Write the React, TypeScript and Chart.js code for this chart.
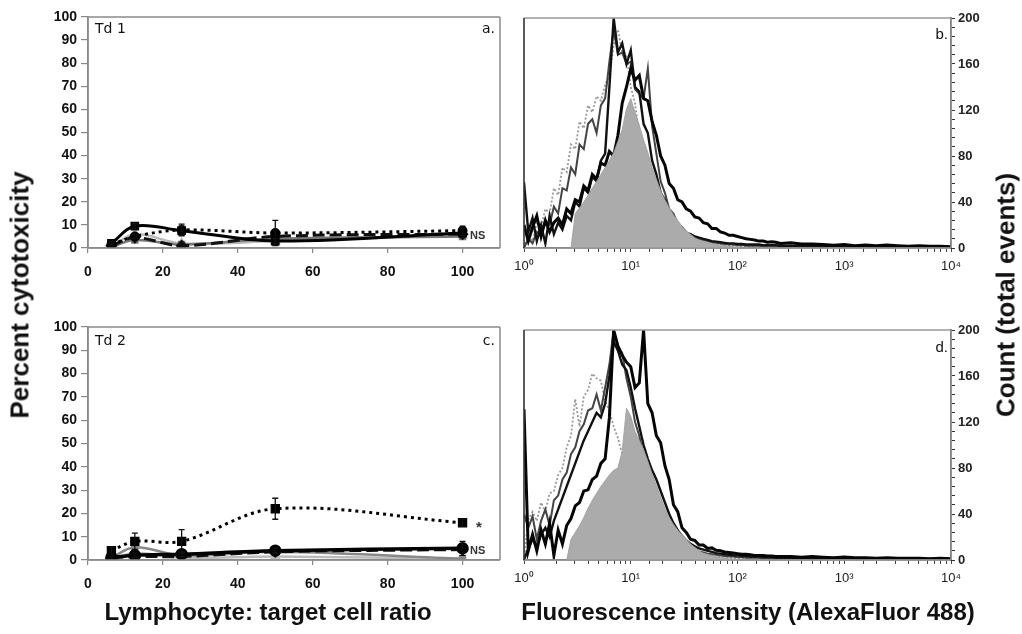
import React, { useEffect, useRef } from 'react';
import { Chart, registerables } from 'chart.js';

Chart.register(...registerables);

const FONT = "'Liberation Sans', Arial, Helvetica, sans-serif";

// ---------- Panels a & c (cytotoxicity) ----------
const RATIO = [6.25, 12.5, 25, 50, 100];
const RATIO_TICKS = [0, 20, 40, 60, 80, 100];
const PCT_TICKS = [0, 10, 20, 30, 40, 50, 60, 70, 80, 90, 100];

const TD1_SOLID = [2, 9.5, 7.5, 3, 6.5];
const TD1_SOLID_ERR = [1, 1, 2, 1, 2];
const TD1_DOTTED = [1.5, 5, 7.8, 6.5, 7.5];
const TD1_DOTTED_ERR = [0.5, 1, 2.5, 5.5, 2];
const TD1_DASHED = [1, 4.5, 1, 5, 6];
const TD1_GRAY = [0.5, 3.5, 1.5, 4, 5];
const TD1_LIGHT = [0.5, 6, 2, 3, 5.5];

const TD2_DOTTED = [4, 8, 8, 22, 16];
const TD2_DOTTED_ERR = [1.5, 3.5, 5, 4.5, 1.5];
const TD2_SOLID = [1, 2, 2.5, 4, 5];
const TD2_SOLID_ERR = [0.5, 1, 1, 1, 3];
const TD2_DASHED = [1, 1.5, 1.5, 3.5, 4.5];
const TD2_GRAY = [1, 5.5, 2, 3.5, 0.5];
const TD2_LIGHT = [0.5, 3, 1, 1.5, 0.5];

// ---------- Panels b & d (histograms) ----------
const LOG_GRID = [
  0, 0.04, 0.08, 0.12, 0.16, 0.2, 0.24, 0.28, 0.32, 0.36,
  0.4, 0.44, 0.48, 0.52, 0.56, 0.6, 0.64, 0.68, 0.72, 0.76,
  0.8, 0.84, 0.88, 0.92, 0.96, 1.0, 1.04, 1.08, 1.12, 1.16,
  1.2, 1.24, 1.28, 1.32, 1.36, 1.4, 1.44, 1.48, 1.52, 1.56,
  1.6, 1.64, 1.68, 1.72, 1.76, 1.8, 1.84, 1.88, 1.92, 1.96,
  2.0, 2.04, 2.08, 2.12, 2.16, 2.2, 2.24, 2.28, 2.32, 2.36,
  2.4, 2.5, 2.6, 2.7, 2.8, 2.9, 3.0, 3.1, 3.2, 3.3,
  3.4, 3.5, 3.6, 3.7, 3.8, 3.9, 4.0,
];
const FLUOR_TICKS = [0, 1, 2, 3, 4];
const COUNT_TICKS = [0, 40, 80, 120, 160, 200];

const B_GRAY = [
  0, 0, 0, 0, 0, 0, 0, 0, 0, 0,
  0, 0, 30, 35, 40, 46, 52, 58, 64, 70,
  76, 83, 93, 103, 121, 130, 118, 107, 94, 83,
  70, 60, 50, 42, 35, 29, 24, 19, 15, 12,
  9, 7, 6, 5, 4, 3, 2.5, 2, 1.5, 1,
  1, 0.5, 0.5, 0, 0, 0, 0, 0, 0, 0,
  0, 0, 0, 0, 0, 0, 0, 0, 0, 0,
  0, 0, 0, 0, 0, 0, 0,
];
const B_LIGHT = [
  0, 10, 6, 22, 18, 34, 30, 52, 46, 70,
  66, 90, 86, 110, 104, 124, 118, 132, 128, 142,
  150, 176, 190, 170, 168, 140, 126, 98, 88, 62,
  56, 42, 38, 28, 27, 19, 17, 12, 12, 8,
  8, 5, 6, 3.5, 4, 3, 3, 2.5, 2, 2,
  2, 1.5, 1.5, 1.5, 1, 1, 1, 1, 1, 1,
  1, 1, 0.5, 0.5, 0.5, 0.5, 0.5, 0.5, 0.5, 0.5,
  0.5, 0.5, 0.5, 0.5, 0.5, 0.5, 0.5,
];
const B_DARK = [
  0, 8, 4, 14, 10, 24, 20, 36, 30, 52,
  50, 70, 64, 90, 86, 108, 112, 100, 124, 130,
  162, 190, 168, 170, 160, 162, 138, 134, 130, 156,
  106, 82, 58, 48, 34, 30, 21, 18, 13, 12,
  9, 8, 7, 6, 5, 4.5, 4, 3.5, 3, 3,
  2.5, 2.5, 2, 2, 2, 2, 1.5, 1.5, 1.5, 1.5,
  1.5, 1.5, 1, 1, 1, 1, 1, 1, 1, 1,
  1, 1, 0.5, 0.5, 0.5, 0.5, 0.5,
];
const B_BROAD = [
  20, 6, 18, 28, 10, 24, 14, 22, 26, 20,
  34, 30, 42, 40, 54, 50, 64, 60, 74, 72,
  84, 80, 98, 126, 140, 156, 146, 150, 130, 128,
  110, 98, 80, 72, 56, 52, 42, 40, 34, 32,
  27, 26, 22, 21, 17, 17, 14, 13, 11, 11,
  10, 9, 8, 7.5, 7, 6, 6, 5, 5.5, 5,
  4, 4.5, 3.5, 3.5, 3, 2.5, 3, 2, 2.5, 2,
  2.5, 2, 1.5, 2, 1.5, 1.5, 1,
];
const B_NARROW = [
  57, 14, 26, 6, 20, 4, 28, 12, 22, 16,
  28, 24, 40, 36, 52, 48, 62, 58, 76, 82,
  140, 200, 170, 178, 160, 172, 140, 136, 108, 100,
  76, 64, 48, 42, 30, 28, 20, 18, 13, 12,
  10, 9, 8, 7, 6, 5.5, 5, 4.5, 4, 4,
  3.5, 3.5, 3, 3, 3, 3, 2.5, 2.5, 2.5, 2.5,
  2, 2, 2, 2, 1.5, 1.5, 1.5, 1.5, 1.5, 1,
  1, 1, 1, 1, 1, 1, 1,
];

const D_GRAY = [
  0, 0, 0, 0, 0, 0, 0, 0, 0, 0,
  0, 18, 24, 30, 37, 45, 52, 58, 64, 69,
  74, 78, 80, 95, 132, 125, 112, 104, 96, 86,
  75, 65, 55, 45, 37, 31, 26, 22, 18, 14,
  11, 8, 6, 5, 4, 3, 2, 2, 1, 1,
  0.5, 0.5, 0, 0, 0, 0, 0, 0, 0, 0,
  0, 0, 0, 0, 0, 0, 0, 0, 0, 0,
  0, 0, 0, 0, 0, 0, 0,
];
const D_LIGHT = [
  0, 35, 42, 34, 50, 42, 58, 60, 74, 80,
  98, 108, 140, 116, 142, 148, 162, 158, 156, 138,
  130, 116, 106, 92, 86, 74, 72, 62, 60, 50,
  48, 38, 36, 28, 25, 19, 18, 13, 12, 8,
  7.5, 5.5, 5, 4, 3, 3, 2.5, 2, 2, 1.5,
  1.5, 1.5, 1, 1, 1, 1, 1, 1, 1, 1,
  1, 0.5, 0.5, 0.5, 0.5, 0.5, 0.5, 0.5, 0.5, 0.5,
  0.5, 0.5, 0.5, 0.5, 0.5, 0.5, 0.5,
];
const D_DARK = [
  40, 28, 38, 18, 34, 44, 30, 52, 56, 70,
  76, 92, 98, 112, 118, 130, 132, 144, 130, 150,
  170, 200, 186, 180, 158, 142, 120, 108, 90, 82,
  66, 60, 46, 40, 30, 26, 19, 17, 12, 11,
  9, 7.5, 6.5, 5.5, 5, 4.5, 4, 3.5, 3, 3,
  2.5, 2.5, 2, 2, 2, 2, 1.5, 1.5, 1.5, 1.5,
  1.5, 1.5, 1, 1, 1, 1, 1, 1, 1, 1,
  1, 1, 0.5, 0.5, 0.5, 0.5, 0.5,
];
const D_BROAD = [
  131, 8, 22, 8, 26, 14, 32, 4, 26, 14,
  30, 36, 47, 50, 60, 61, 70, 73, 84, 88,
  124, 200, 186, 178, 172, 168, 150, 154, 200, 136,
  128, 108, 102, 82, 70, 48, 42, 28, 24, 18,
  17, 13, 13, 10, 10.5, 8.5, 8, 7, 6.5, 6,
  5.5, 5, 5, 4.5, 4, 4, 4, 3.5, 3.5, 3,
  3, 3, 2.5, 3, 2.5, 2, 2.5, 2, 2, 1.5,
  2, 1.5, 1.5, 1.5, 1, 1.5, 1,
];
const D_MID = [
  0, 10, 18, 12, 22, 28, 20, 34, 44, 54,
  64, 74, 84, 94, 104, 112, 120, 128, 124, 136,
  160, 190, 182, 170, 165, 150, 132, 116, 100, 88,
  78, 70, 60, 50, 40, 32, 26, 21, 17, 14,
  12, 10, 9, 8, 7, 6, 5.5, 5, 4.5, 4,
  4, 3.5, 3.5, 3, 3, 3, 2.5, 2.5, 2.5, 2,
  2, 2, 2, 1.5, 1.5, 1.5, 1.5, 1.5, 1, 1,
  1, 1, 1, 1, 1, 1, 1,
];

const SUP = ['\u2070', '\u00B9', '\u00B2', '\u00B3', '\u2074'];

// ---------- plugins ----------
const boxPlugin = {
  id: 'boxFrame',
  afterDraw(chart: any, _a: any, opts: any) {
    const { ctx, chartArea: a } = chart;
    ctx.save();
    ctx.lineWidth = opts.width || 1.5;
    ctx.strokeStyle = opts.color || '#888';
    ctx.beginPath();
    ctx.moveTo(a.left, a.top); ctx.lineTo(a.right, a.top);
    ctx.moveTo(a.right, a.top); ctx.lineTo(a.right, a.bottom);
    ctx.moveTo(a.left, a.bottom); ctx.lineTo(a.right, a.bottom);
    ctx.stroke();
    ctx.strokeStyle = opts.leftColor || opts.color || '#888';
    ctx.beginPath();
    ctx.moveTo(a.left, a.top); ctx.lineTo(a.left, a.bottom);
    ctx.stroke();
    ctx.restore();
  },
};

const errorPlugin = {
  id: 'errorBars',
  afterDatasetsDraw(chart: any) {
    const { ctx } = chart;
    const xs = chart.scales.x;
    const ys = chart.scales.y;
    chart.data.datasets.forEach((ds: any) => {
      if (!ds.errors) return;
      ctx.save();
      ctx.strokeStyle = ds.errColor || '#111';
      ctx.lineWidth = 1.3;
      ds.data.forEach((p: any, i: number) => {
        const e = ds.errors[i];
        if (!e) return;
        const px = xs.getPixelForValue(p.x);
        const t = ys.getPixelForValue(p.y + e);
        const b = ys.getPixelForValue(Math.max(0, p.y - e));
        ctx.beginPath();
        ctx.moveTo(px, t); ctx.lineTo(px, b);
        ctx.moveTo(px - 3, t); ctx.lineTo(px + 3, t);
        ctx.moveTo(px - 3, b); ctx.lineTo(px + 3, b);
        ctx.stroke();
      });
      ctx.restore();
    });
  },
};

const pts = (xs: number[], ys: number[]) => xs.map((x, i) => ({ x, y: ys[i] }));
const hist = (ys: number[]) => LOG_GRID.map((l, i) => ({ x: Math.pow(10, l), y: ys[i] }));

function cytoConfig(series: any[], top: number): any {
  return {
    type: 'line',
    data: { datasets: series },
    options: {
      animation: false,
      responsive: false,
      devicePixelRatio: 1,
      layout: { padding: { top, right: 20, left: 0, bottom: 0 } },
      plugins: { legend: { display: false }, tooltip: { enabled: false }, boxFrame: { color: '#8a8a8a', width: 1.5 } },
      scales: {
        x: {
          type: 'linear', min: 0, max: 110,
          afterBuildTicks: (s: any) => { s.ticks = RATIO_TICKS.map((v) => ({ value: v })); },
          afterFit: (s: any) => { s.height = 42; s.paddingLeft = 0; s.paddingRight = 0; },
          grid: { drawOnChartArea: false, tickLength: 5, color: '#888', lineWidth: 1.2 },
          border: { color: '#888', width: 1.5 },
          ticks: { color: '#111', font: { family: FONT, size: 14, weight: 'bold' }, padding: 11, maxRotation: 0 },
        },
        y: {
          min: 0, max: 100,
          afterBuildTicks: (s: any) => { s.ticks = PCT_TICKS.map((v) => ({ value: v })); },
          afterFit: (s: any) => { s.width = 88; },
          grid: { drawOnChartArea: false, tickLength: 7, color: '#888', lineWidth: 1.2 },
          border: { color: '#888', width: 1.5 },
          ticks: { color: '#111', font: { family: FONT, size: 14, weight: 'bold' }, padding: 4 },
        },
      },
    },
    plugins: [boxPlugin, errorPlugin],
  };
}

function line(data: any, color: string, width: number, dash: number[], style: string, radius: number, extra: any = {}) {
  return {
    data, borderColor: color, borderWidth: width, borderDash: dash, tension: 0.35,
    pointStyle: style, pointRadius: radius, pointBackgroundColor: color, pointBorderColor: color,
    fill: false, ...extra,
  };
}

function histConfig(sets: any[], top: number, left: number): any {
  return {
    type: 'line',
    data: { datasets: sets },
    options: {
      animation: false,
      responsive: false,
      devicePixelRatio: 1,
      layout: { padding: { top, left, right: 0, bottom: 0 } },
      elements: { point: { radius: 0 }, line: { tension: 0 } },
      plugins: { legend: { display: false }, tooltip: { enabled: false }, boxFrame: { color: '#999', leftColor: '#333', width: 1.6 } },
      scales: {
        x: {
          type: 'logarithmic', min: 1, max: 10000,
          afterFit: (s: any) => { s.height = 42; s.paddingLeft = 0; s.paddingRight = 0; },
          grid: { drawOnChartArea: false, tickLength: 4, color: '#444', lineWidth: 1 },
          border: { color: '#333', width: 1.5 },
          ticks: {
            autoSkip: false, maxRotation: 0, color: '#222', padding: 7,
            font: { family: FONT, size: 13 },
            callback: (v: number) => {
              const l = Math.log10(v);
              const r = Math.round(l);
              return Math.abs(l - r) < 1e-6 && FLUOR_TICKS.includes(r) ? '10' + SUP[r] : '';
            },
          },
        },
        y: {
          position: 'right', min: 0, max: 200,
          afterFit: (s: any) => { s.width = 71; },
          grid: { drawOnChartArea: false, tickLength: 4, color: '#333', lineWidth: 1 },
          border: { color: '#222', width: 1.5 },
          ticks: {
            stepSize: 8, autoSkip: false, color: '#222', padding: 3,
            font: { family: FONT, size: 13, weight: 'bold' },
            callback: (v: number) => (COUNT_TICKS.includes(v) ? String(v) : ''),
          },
        },
      },
    },
    plugins: [boxPlugin],
  };
}

function histSets(gray: number[], light: number[], dark: number[], mid: number[], broad: number[]) {
  return [
    { data: hist(gray), borderColor: '#9a9a9a', borderWidth: 0.8, backgroundColor: '#ababab', fill: 'origin' },
    { data: hist(broad), borderColor: '#050505', borderWidth: 3, fill: false },
    { data: hist(mid), borderColor: '#111', borderWidth: 2.4, fill: false },
    { data: hist(dark), borderColor: '#444', borderWidth: 2, fill: false },
    { data: hist(light), borderColor: '#999', borderWidth: 1.8, borderDash: [2, 2], fill: false },
  ];
}

const ChartCanvas = ({ left, top, width, height, make }: any) => {
  const ref = useRef<HTMLCanvasElement>(null);
  useEffect(() => {
    const c = new Chart(ref.current as HTMLCanvasElement, make());
    return () => c.destroy();
  }, []);
  return <canvas ref={ref} width={width} height={height} style={{ position: 'absolute', left, top, width, height }} />;
};

const Txt = ({ x, y, size, bold, children, align, family, color }: any) => (
  <div style={{
    position: 'absolute', left: x, top: y - size / 2, fontSize: size, lineHeight: 1 + 'em',
    fontWeight: bold ? 'bold' : 'normal', fontFamily: family || FONT, whiteSpace: 'nowrap',
    color: color || '#111', transform: align === 'center' ? 'translateX(-50%)' : align === 'right' ? 'translateX(-100%)' : undefined,
  }}>{children}</div>
);

export default function App() {
  const makeA = () => cytoConfig([
    line(pts(RATIO, TD1_SOLID), '#000', 3, [], 'rect', 4, { errors: TD1_SOLID_ERR }),
    line(pts(RATIO, TD1_DOTTED), '#000', 3, [3, 4], 'circle', 3.5, { errors: TD1_DOTTED_ERR }),
    line(pts(RATIO, TD1_DASHED), '#111', 3, [12, 5], 'rectRot', 4),
    line(pts(RATIO, TD1_GRAY), '#777', 2.5, [], 'rect', 3.5),
    line(pts(RATIO, TD1_LIGHT), '#bbb', 2.5, [], 'triangle', 4),
  ], 17);
  const makeC = () => cytoConfig([
    line(pts(RATIO, TD2_DOTTED), '#000', 3, [3, 4], 'rect', 4.5, { errors: TD2_DOTTED_ERR }),
    line(pts(RATIO, TD2_SOLID), '#000', 3.5, [], 'circle', 4.5, { errors: TD2_SOLID_ERR }),
    line(pts(RATIO, TD2_DASHED), '#111', 3, [12, 5], 'rectRot', 4),
    line(pts(RATIO, TD2_GRAY), '#888', 2.5, [], 'rect', 3.5),
    line(pts(RATIO, TD2_LIGHT), '#bbb', 2.5, [], 'triangle', 4),
  ], 15);
  const makeB = () => histConfig(histSets(B_GRAY, B_LIGHT, B_DARK, B_NARROW, B_BROAD), 18, 19);
  const makeD = () => histConfig(histSets(D_GRAY, D_LIGHT, D_DARK, D_MID, D_BROAD), 18, 19);

  const DV = "'DejaVu Sans', Verdana, sans-serif";
  const vTitle: any = { position: 'absolute', top: 295, transform: 'translate(-50%, -50%) rotate(-90deg)', fontFamily: FONT, fontWeight: 'bold', fontSize: 26, whiteSpace: 'nowrap', color: '#111' };
  return (
    <div style={{ position: 'fixed', left: 0, top: 0, width: 1022, height: 634, background: '#fff', overflow: 'hidden' }}>
      <ChartCanvas left={0} top={0} width={520} height={290} make={makeA} />
      <ChartCanvas left={0} top={312} width={520} height={290} make={makeC} />
      <ChartCanvas left={505} top={0} width={517} height={290} make={makeB} />
      <ChartCanvas left={505} top={312} width={517} height={290} make={makeD} />

      <Txt x={95} y={28} size={14} family={DV}>Td 1</Txt>
      <Txt x={495} y={28} size={14} family={DV} align="right">a.</Txt>
      <Txt x={470} y={235} size={11} bold color="#333">NS</Txt>
      <Txt x={95} y={340} size={14} family={DV}>Td 2</Txt>
      <Txt x={495} y={340} size={14} family={DV} align="right">c.</Txt>
      <Txt x={476} y={526} size={15} bold color="#333">*</Txt>
      <Txt x={470} y={550} size={11} bold color="#333">NS</Txt>
      <Txt x={948} y={33} size={15} align="right">b.</Txt>
      <Txt x={948} y={346} size={15} align="right">d.</Txt>

      <div style={{ ...vTitle, left: 20 }}>Percent cytotoxicity</div>
      <div style={{ ...vTitle, left: 1006 }}>Count (total events)</div>
      <Txt x={268} y={612} size={24} bold align="center">Lymphocyte: target cell ratio</Txt>
      <Txt x={748} y={612} size={24} bold align="center">Fluorescence intensity (AlexaFluor 488)</Txt>
    </div>
  );
}
